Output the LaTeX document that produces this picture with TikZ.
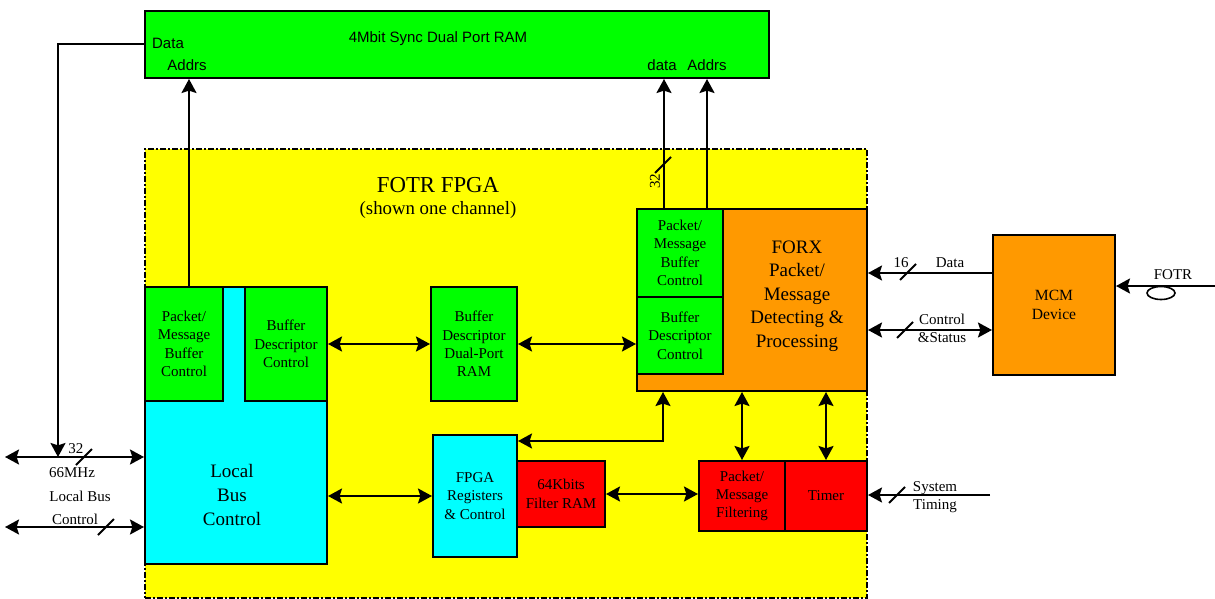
\documentclass[tikz,border=0pt]{standalone}
\usepackage{fontspec}
\setmainfont{Liberation Serif}
\setsansfont{Liberation Sans}
\usetikzlibrary{arrows.meta,shapes.geometric}

\begin{document}
\begin{tikzpicture}[x=0.5pt,y=-0.5pt, line width=1pt,
    >={Stealth[length=7pt,width=7.5pt,inset=1.2pt]},
    blk/.style={draw, line width=1pt, anchor=north west, inner sep=0pt, align=center,
      font=\fontsize{7.5}{9.2}\selectfont},
    big/.style={inner sep=0pt, align=center, font=\fontsize{9.5}{11.8}\selectfont},
    lbl/.style={inner sep=0pt, align=center, font=\fontsize{7.5}{9}\selectfont},
    sanslbl/.style={inner sep=0pt, font=\sffamily\fontsize{7.5}{9}\selectfont}]
    \definecolor{ramgreen}{RGB}{0,255,0}
    \definecolor{fpgayellow}{RGB}{255,255,0}
    \definecolor{buscyan}{RGB}{0,255,255}
    \definecolor{forxorange}{RGB}{255,153,0}
    \definecolor{filtred}{RGB}{255,0,0}

    \useasboundingbox (0,0) rectangle (1215,599);

    \node[blk, fill=fpgayellow, line width=0.8pt, dash pattern=on 3pt off 1pt on 1pt off 1pt,
      minimum width=361pt, minimum height=224.5pt] (fpga) at (144,148) {};
    \node[blk, fill=ramgreen, minimum width=312pt, minimum height=33.5pt] (ram) at (144,10) {};

    \node[sanslbl] (ramtitle) at (438,39) {4Mbit Sync Dual Port RAM};
    \node[sanslbl] (ramdata) at (168,43) {Data};
    \node[sanslbl] (ramaddrs) at (187,65) {Addrs};
    \node[sanslbl] (ramdata2) at (662,65) {data};
    \node[sanslbl] (ramaddrs2) at (707,65) {Addrs};

    \node[inner sep=0pt, font=\fontsize{11.4}{13}\selectfont] (fpgatitle) at (438,185) {FOTR FPGA};
    \node[inner sep=0pt, font=\fontsize{9.4}{11}\selectfont] (fpgasub) at (438,210) {(shown one channel)};

    % local bus side
    \node[blk, fill=buscyan, minimum width=91pt, minimum height=138.5pt] (lbc) at (144,286) {};
    \node[blk, fill=ramgreen, minimum width=39pt, minimum height=57pt] (pmbc) at (144,286) {Packet/\\Message\\Buffer\\Control};
    \node[blk, fill=ramgreen, minimum width=41pt, minimum height=57pt] (bdc) at (244,286) {Buffer\\Descriptor\\Control};
    \node[big] (lbctxt) at (232,495) {Local\\Bus\\Control};

    \node[blk, fill=ramgreen, minimum width=43pt, minimum height=57pt] (bddp) at (430,286) {Buffer\\Descriptor\\Dual-Port\\RAM};

    % receive side
    \node[blk, fill=forxorange, minimum width=115pt, minimum height=91pt] (forx) at (636,208) {};
    \node[blk, fill=ramgreen, minimum width=43pt, minimum height=44pt] (pmbc2) at (636,208) {Packet/\\Message\\Buffer\\Control};
    \node[blk, fill=ramgreen, minimum width=43pt, minimum height=38.5pt] (bdc2) at (636,296) {Buffer\\Descriptor\\Control};
    \node[big] (forxtxt) at (797,296) {FORX\\Packet/\\Message\\Detecting \&\\Processing};

    \node[blk, fill=forxorange, minimum width=61pt, minimum height=70pt, font=\fontsize{7.8}{9.5}\selectfont] (mcm) at (992,234) {MCM\\Device};

    \node[blk, fill=buscyan, minimum width=42pt, minimum height=61pt] (fregs) at (432,434) {FPGA\\Registers\\\& Control};
    \node[blk, fill=filtred, minimum width=44pt, minimum height=33pt] (fram) at (516,460) {64Kbits\\Filter RAM};
    \node[blk, fill=filtred, minimum width=43pt, minimum height=35pt] (pmf) at (698,460) {Packet/\\Message\\Filtering};
    \node[blk, fill=filtred, minimum width=41pt, minimum height=35pt] (timer) at (784,460) {Timer};

    \coordinate (lbtap) at (58,457);
    \coordinate (lbend) at (5,457);
    \coordinate (lcend) at (5,527);
    \coordinate (fotrin) at (1215,286);
    \coordinate (systim) at (990,495);
    \coordinate (dat) at ([yshift=-19.5pt]mcm.north west);
    \coordinate (cst) at ([yshift=-48pt]mcm.north west);

    \draw[->] (ram.west) -| (lbtap);
    \draw[<->] (lbend) -- (lbend -| lbc.west);
    \draw[<->] (lcend) -- (lcend -| lbc.west);
    \draw[->] ([xshift=2.5pt]pmbc.north) -- ([xshift=2.5pt]pmbc.north |- ram.south);
    \draw[->] ([xshift=-8pt]pmbc2.north) -- ([xshift=-8pt]pmbc2.north |- ram.south);
    \draw[->] ([xshift=13.5pt]pmbc2.north) -- ([xshift=13.5pt]pmbc2.north |- ram.south);
    \draw[<->] (bdc.east) -- (bdc.east -| bddp.west);
    \draw[<->] (bddp.east) -- (bddp.east -| bdc2.west);
    \draw[<->] (fregs.west) -- (fregs.west -| lbc.east);
    \draw[<->] (fram.east) -- (fram.east -| pmf.west);
    \draw[<->] ([yshift=-3.5pt]fregs.north east) -| ([xshift=13.5pt]forx.south west);
    \draw[<->] (pmf.north) -- (pmf.north |- forx.south);
    \draw[<->] (timer.north) -- (timer.north |- forx.south);
    \draw[->] (dat) -- (dat -| forx.east);
    \draw[<->] (cst) -- (cst -| forx.east);
    \draw[->] (fotrin) -- (fotrin -| mcm.east);
    \draw[->] (systim) -- (systim -| timer.east);

    \foreach \x/\y in {84/457, 106/527, 663/165, 908/272, 905/330, 897/495}{
      \draw (\x-8,\y+8) -- (\x+8,\y-8);
    }
    \node[draw, ellipse, line width=0.8pt, minimum width=14pt, minimum height=6.5pt, inner sep=0pt] (fiber) at (1161,293) {};

    \node[lbl] (bus32) at (76,449) {32};
    \node[lbl] (busclk) at (72,473) {66MHz};
    \node[lbl] (busname) at (80,496) {Local Bus};
    \node[lbl] (busctl) at (75,519) {Control};
    \node[lbl, rotate=90] (ram32) at (655,181) {32};
    \node[lbl] (dat16) at (901,263) {16};
    \node[lbl] (datname) at (950,263) {Data};
    \node[lbl] (cstname) at (942,328) {Control\\\&Status};
    \node[lbl] (fotrname) at (1173,275) {FOTR};
    \node[lbl] (sysname) at (935,497) {System\\Timing};
  \end{tikzpicture}
\end{document}
